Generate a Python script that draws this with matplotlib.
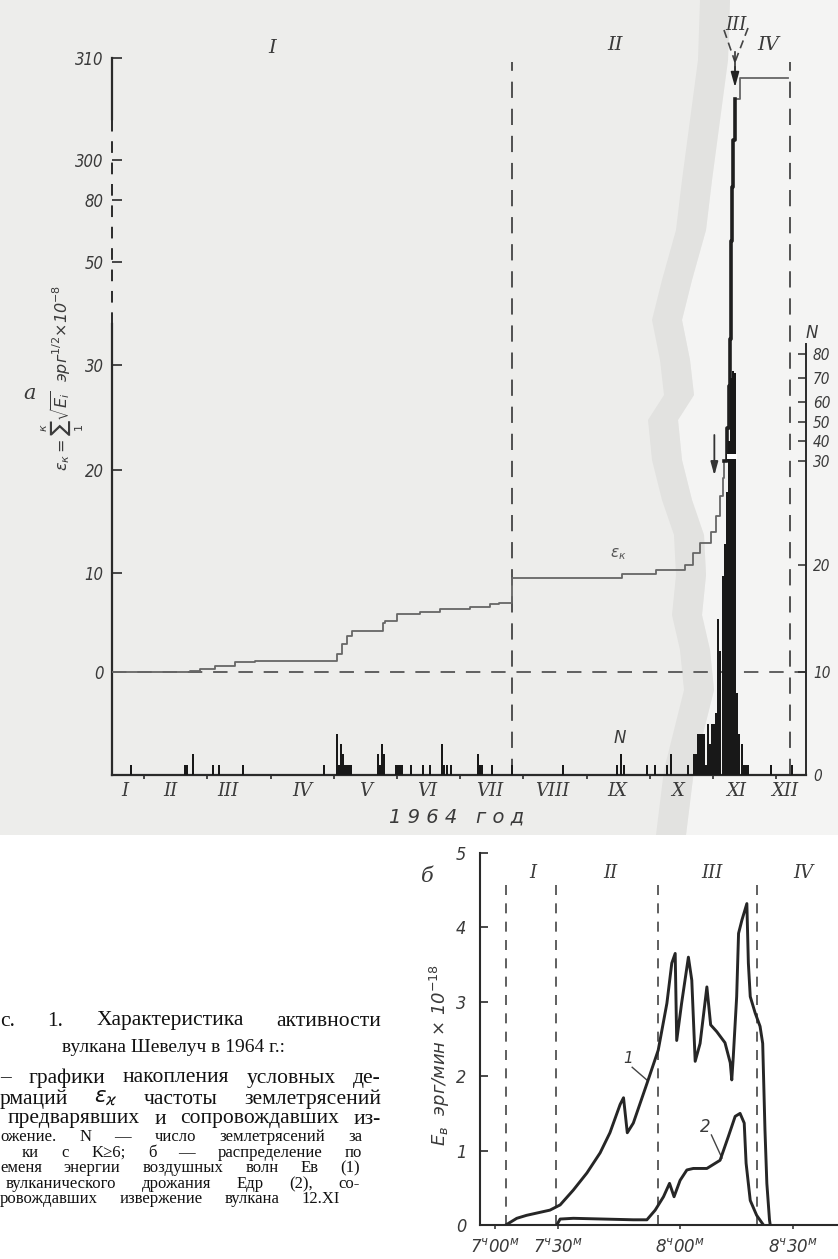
import numpy as np
import matplotlib
matplotlib.use("Agg")
import matplotlib.pyplot as plt
from matplotlib.patches import Rectangle, Polygon
from matplotlib.lines import Line2D

# ---------------- DATA ----------------
# panel a : month coordinate (0 = 1 Jan, 1 = 1 Feb ...)
DIM = [31, 29, 31, 30, 31, 30, 31, 31, 30, 31, 30, 31]

# cumulative conditional deformation eps_k (step levels, start of each level)
eps_x = [0.49, 1.73, 1.89, 2.12, 2.44, 2.76, 4.05, 4.13, 4.21, 4.29, 4.77, 4.81,
         5.00, 5.37, 5.68, 6.16, 6.47, 6.62, 6.82, 8.56, 9.09, 9.56, 9.69, 9.80,
         9.96, 10.05, 10.11, 10.15, 10.18, 10.22, 10.25, 10.27, 10.29, 10.30,
         10.32, 10.35, 10.43, 11.19]
eps_v = [0.0, 0.1, 0.3, 0.6, 1.0, 1.1, 1.8, 2.8, 3.6, 4.1, 5.0, 5.2,
         5.9, 6.1, 6.4, 6.6, 6.9, 7.0, 9.5, 9.9, 10.3, 10.8, 11.9, 12.9,
         14.0, 15.5, 17.5, 19.2, 20.9, 24.0, 28.0, 35.0, 60.0, 150.0,
         302.0, 306.0, 308.0, 308.0]

# number of earthquakes per day N (month, day, N)
bar_month = [1, 2, 2, 2, 3, 3, 3, 4,
             5, 5, 5, 5, 5, 5, 5, 5, 5, 5, 5, 5, 5, 6, 6, 6,
             6, 6, 6, 6, 6, 6, 6, 7, 7, 7, 7, 7, 8, 9, 9, 9, 9,
             10, 10, 10, 10, 10, 10, 10, 10, 10, 10, 10, 10, 10, 10,
             11, 11, 11, 11, 11, 11, 11, 11, 11, 11, 11, 11, 11, 11, 11, 11, 11, 11, 12]
bar_day = [25, 19, 20, 23, 3, 6, 18, 26,
           2, 3, 4, 5, 6, 7, 8, 9, 22, 23, 24, 25, 31, 1, 2, 3,
           7, 13, 16, 22, 23, 24, 26, 9, 10, 11, 16, 26, 20, 15, 17, 18, 29,
           3, 9, 11, 19, 22, 23, 24, 25, 26, 27, 28, 29, 30, 31,
           1, 2, 3, 4, 5, 6, 7, 8, 9, 10, 11, 12, 13, 14, 15, 16, 17, 28, 8]
bar_n = [1, 1, 1, 2, 1, 1, 1, 1,
         4, 1, 3, 2, 1, 1, 1, 1, 2, 1, 3, 2, 1, 1, 1, 1,
         1, 1, 1, 3, 1, 1, 1, 2, 1, 1, 1, 1, 1, 1, 2, 1, 1,
         1, 1, 2, 1, 2, 2, 4, 4, 4, 4, 1, 5, 3, 5,
         5, 6, 15, 12, 19, 22, 27, 40, 70, 73, 72, 8, 4, 3, 1, 1, 1, 1, 1]

month_labels = ["I", "II", "III", "IV", "V", "VI", "VII", "VIII", "IX", "X", "XI", "XII"]
month_label_pos = [0.70, 1.41, 2.33, 3.50, 4.50, 5.48, 6.47, 7.45, 8.48, 9.44, 10.37, 11.13]
phase_bounds_a = [6.82, 11.22]

eps_ticks = [0, 10, 20, 30, 50, 80, 300, 310]
n_ticks = [0, 10, 20, 30, 40, 50, 60, 70, 80]

# panel b : minutes after 7h00 (label positions)
t1 = [13.8, 16.7, 19.3, 25.5, 28.2, 31.7, 35.3, 38.8, 41.4, 44.1, 45.0, 46.0,
      47.6, 51.2, 54.2, 56.5, 57.8, 58.7, 59.1, 60.4, 62.2, 63.1, 64.0, 65.3,
      67.1, 68.1, 69.7, 71.9, 73.3, 73.7, 74.1, 75.0, 75.5, 76.4, 77.7, 78.1,
      78.6, 79.9, 81.2, 81.9, 82.5, 83.0, 83.7, 83.9]
v1 = [0.0, 0.09, 0.13, 0.20, 0.27, 0.47, 0.70, 0.97, 1.24, 1.62, 1.71, 1.24,
      1.37, 1.90, 2.35, 2.98, 3.52, 3.65, 2.48, 2.98, 3.60, 3.29, 2.20, 2.44,
      3.20, 2.69, 2.60, 2.45, 2.18, 1.95, 2.26, 3.07, 3.92, 4.10, 4.32, 3.52,
      3.07, 2.85, 2.67, 2.44, 1.28, 0.56, 0.07, 0.0]
t2 = [27.3, 28.2, 31.7, 47.6, 51.2, 53.4, 55.6, 57.2, 58.4, 60.0, 61.8, 63.5,
      67.1, 70.6, 72.8, 74.6, 75.9, 77.0, 77.5, 78.6, 80.3, 82.1]
v2 = [0.0, 0.08, 0.09, 0.07, 0.07, 0.20, 0.38, 0.56, 0.38, 0.60, 0.74, 0.76,
      0.76, 0.87, 1.19, 1.46, 1.50, 1.37, 0.83, 0.33, 0.13, 0.0]
phase_bounds_b = [13.8, 27.1, 54.2, 80.4]
phase_labels_b = ["I", "II", "III", "IV"]
phase_label_pos_b = [21.0, 41.4, 68.5, 92.6]
time_tick_pos = [10.9, 27.6, 60.0, 90.0]
time_tick_lab = ["7$^{ч}$00$^{м}$", "7$^{ч}$30$^{м}$", "8$^{ч}$00$^{м}$", "8$^{ч}$30$^{м}$"]

# ---------------- FIGURE ----------------
W, H = 838, 1259
fig = plt.figure(figsize=(W / 100, H / 100), dpi=100)
fig.patch.set_facecolor("white")


def fx(px):
    return px / W


def fy(py):
    return 1 - py / H


# paper background of the scanned upper part (soft fold shadow)
fig.add_artist(Rectangle((0, fy(835)), 1, 835 / H, transform=fig.transFigure,
                         color="#ededeb", zorder=-10, lw=0))
edge = [(700, 0), (698, 60), (690, 120), (682, 180), (676, 230), (662, 280), (652, 320),
        (660, 360), (664, 395), (648, 420), (652, 460), (662, 500), (674, 535), (676, 575),
        (672, 615), (680, 650), (684, 690), (674, 730), (664, 770), (656, 835)]
right = [(x + 30, y) for x, y in edge] + [(838, 835), (838, 0)]
band = [(x, y) for x, y in edge] + [(x + 30, y) for x, y in edge[::-1]]
fig.add_artist(Polygon([(fx(x), fy(y)) for x, y in right], closed=True,
                       transform=fig.transFigure, color="#f4f4f3", zorder=-9, lw=0))
fig.add_artist(Polygon([(fx(x), fy(y)) for x, y in band], closed=True,
                       transform=fig.transFigure, color="#e2e2e0", zorder=-9, lw=0))

INK = "#2a2a2a"
TXT = "#3a3a3a"


def interp_scale(kn, un):
    kn = np.asarray(kn, float)
    un = np.asarray(un, float)

    def fwd(v):
        return np.interp(v, kn, un)

    def inv(u):
        return np.interp(u, un, kn)
    return fwd, inv


# ---------------- PANEL a ----------------
ax = fig.add_axes([fx(112), fy(775), (806 - 112) / W, (775 - 58) / H])
ax.set_facecolor("none")
e_fwd, e_inv = interp_scale([-1000, -10.4, 0, 10, 20, 30, 50, 80, 300, 310, 2000],
                            [-9800, 0, 103, 202, 305, 410, 513, 575, 615, 717, 17950])
ax.set_yscale("function", functions=(e_fwd, e_inv))
ax.set_xlim(0.49, 11.47)
ax.set_ylim(-10.4, 310)

ax2 = ax.twinx()
ax2.set_facecolor("none")
n_fwd, n_inv = interp_scale([-1000, 0, 10, 20, 30, 40, 50, 60, 70, 80, 1000],
                            [-10300, 0, 103, 210, 314, 334, 353, 373, 397, 421, 2629])
ax2.set_yscale("function", functions=(n_fwd, n_inv))
ax2.set_ylim(0, float(n_inv(717)))

# bars
bx_pos = np.array([(m - 1) + (d - 0.5) / DIM[m - 1] for m, d in zip(bar_month, bar_day)])
bn = np.array(bar_n, float)
ax2.bar(bx_pos, bn, width=0.95 / 30.5, color="#181818", lw=0, zorder=3)
big = bn > 34
ax2.bar(bx_pos[big], 2.6, bottom=31.0, width=1.6 / 30.5, color="white", lw=0, zorder=4)

# eps curve
ex = np.array(eps_x)
ev = np.array(eps_v)
ax.plot(ex, ev, drawstyle="steps-post", color="#666666", lw=1.3, zorder=5)
i0 = int(np.searchsorted(ex, 10.22)) - 1
i1 = int(np.searchsorted(ex, 10.35)) + 1
ax.plot(ex[i0:i1], ev[i0:i1], drawstyle="steps-post", color="#1e1e1e", lw=2.6, zorder=6)

# reference lines
ax.axhline(0, color="#555555", lw=1.3, dashes=(8, 6), zorder=2)
for xb in phase_bounds_a:
    ax.axvline(xb, ymin=0, ymax=(775 - 62) / 717, color="#444444", lw=1.3,
               dashes=(9, 6), clip_on=False, zorder=2)

# spines
for s in ["top", "left", "right"]:
    ax.spines[s].set_visible(False)
ax.spines["bottom"].set_color(INK)
ax.spines["bottom"].set_linewidth(1.6)
for s in ["top", "left", "bottom"]:
    ax2.spines[s].set_visible(False)
ax2.spines["right"].set_color(INK)
ax2.spines["right"].set_linewidth(1.4)
ax2.spines["right"].set_bounds(0, 84)

ytr = ax.get_yaxis_transform()
ax.plot([0, 0], [-10.4, 38], transform=ytr, color=INK, lw=1.6, clip_on=False)
ax.plot([0, 0], [38, 304], transform=ytr, color=INK, lw=1.4, dashes=(6, 5), clip_on=False)
ax.plot([0, 0], [304, 310], transform=ytr, color=INK, lw=1.6, clip_on=False)

tick_font = dict(family="DejaVu Sans", style="italic", stretch="condensed")
ax.set_yticks(eps_ticks)
ax.set_yticklabels([str(v) for v in eps_ticks], fontsize=12, color=TXT, **tick_font)
ax.tick_params(axis="y", direction="in", length=7, width=1.2, color=INK, pad=6)
ax.yaxis.set_minor_locator(plt.NullLocator())
ax.set_xticks(range(1, 12))
ax.tick_params(axis="x", direction="out", length=3, width=1.2, color=INK, labelbottom=False)

ax2.set_yticks(n_ticks)
ax2.set_yticklabels([str(v) for v in n_ticks], fontsize=11, color=TXT, **tick_font)
ax2.tick_params(axis="y", direction="in", length=6, width=1.1, color=INK, pad=5)
ax2.yaxis.set_minor_locator(plt.NullLocator())

xtr = ax.get_xaxis_transform()
roman = dict(family="DejaVu Serif", style="italic", color=TXT)
for p, lab in zip(month_label_pos, month_labels):
    ax.text(p, -0.022, lab, transform=xtr, ha="center", va="center", fontsize=13, **roman)

fig.text(fx(457), fy(817), "1 9 6 4   г о д", ha="center", va="center", fontsize=14,
         family="DejaVu Sans", style="italic", color=TXT)

# phase labels of panel a
fig.text(fx(272), fy(48), "I", ha="center", va="center", fontsize=14, **roman)
fig.text(fx(615), fy(45), "II", ha="center", va="center", fontsize=14, **roman)
fig.text(fx(736), fy(25), "III", ha="center", va="center", fontsize=13, **roman)
fig.text(fx(768), fy(45), "IV", ha="center", va="center", fontsize=14, **roman)
for (x0, y0) in [(724, 30), (748, 28)]:
    fig.add_artist(Line2D([fx(x0), fx(735)], [fy(y0), fy(62)], transform=fig.transFigure,
                          color="#444444", lw=1.2, dashes=(5, 3)))
fig.add_artist(Line2D([fx(735), fx(735)], [fy(52), fy(70)], transform=fig.transFigure,
                      color="#333333", lw=1.2))
ax.annotate("", xy=(fx(735), fy(90)), xytext=(fx(735), fy(64)),
            xycoords="figure fraction", textcoords="figure fraction",
            arrowprops=dict(arrowstyle="-|>,head_length=0.9,head_width=0.25",
                            color="#222222", lw=1.2))

# arrow near eps ~ 20
ax.annotate("", xy=(10.02, 19.2), xytext=(10.02, 23.6),
            arrowprops=dict(arrowstyle="-|>,head_length=0.8,head_width=0.22",
                            color="#333333", lw=1.3))

ax.text(8.50, 11.8, r"$\varepsilon_{к}$", fontsize=11, color="#555555", ha="center", va="center")
fig.text(fx(620), fy(738), "N", fontsize=12, family="DejaVu Sans", style="italic",
         color=TXT, ha="center", va="center")
fig.text(fx(812), fy(333), "N", fontsize=12, family="DejaVu Sans", style="italic",
         color=TXT, ha="center", va="center")
fig.text(fx(30), fy(393), "a", fontsize=15, family="DejaVu Serif", style="italic",
         color=TXT, ha="center", va="center")
fig.text(fx(63), fy(378),
         r"$\varepsilon_{к}=\sum_{1}^{к}\sqrt{E_i}$  эрг$^{1/2}$$\times$10$^{-8}$",
         rotation=90, fontsize=11.5, color=TXT, ha="center", va="center",
         family="DejaVu Sans", style="italic")

# ---------------- PANEL b ----------------
bx = fig.add_axes([fx(480), fy(1225), (837 - 480) / W, (1225 - 853) / H])
bx.set_facecolor("none")
bx.set_xlim(6.95, 101.6)
bx.set_ylim(0, 5)
for s in ["top", "right"]:
    bx.spines[s].set_visible(False)
for s in ["left", "bottom"]:
    bx.spines[s].set_color(INK)
    bx.spines[s].set_linewidth(1.5)
bx.plot(t1, v1, color="#262626", lw=2.1, solid_joinstyle="round", zorder=4)
bx.plot(t2, v2, color="#262626", lw=2.1, solid_joinstyle="round", zorder=4)
bx.vlines(phase_bounds_b, 0, 4.68, colors="#444444", lw=1.2, linestyles=(0, (6, 5)), zorder=2)
for p, lab in zip(phase_label_pos_b, phase_labels_b):
    bx.text(p, 4.73, lab, ha="center", va="center", fontsize=13, **roman)
bx.set_yticks(range(0, 6))
bx.set_yticklabels([str(v) for v in range(0, 6)], fontsize=13, color=TXT, **tick_font)
bx.tick_params(axis="y", direction="in", length=6, width=1.2, color=INK, pad=10)
bx.set_xticks(time_tick_pos)
bx.set_xticklabels(time_tick_lab, fontsize=12, color=TXT, family="DejaVu Sans", style="italic")
bx.tick_params(axis="x", direction="out", length=3, width=1.1, color=INK, pad=6)

bx.text(46.2, 2.24, "1", fontsize=11, color=TXT, ha="center", va="center",
        family="DejaVu Sans", style="italic")
bx.plot([47.3, 51.4], [2.12, 1.94], color="#444444", lw=1.0)
bx.text(66.6, 1.32, "2", fontsize=12, color=TXT, ha="center", va="center",
        family="DejaVu Sans", style="italic")
bx.plot([68.3, 71.1], [1.21, 0.90], color="#444444", lw=1.0)

fig.text(fx(427), fy(877), "б", fontsize=15, family="DejaVu Serif", style="italic",
         color=TXT, ha="center", va="center")
fig.text(fx(440), fy(1055), r"$E_{\mathregular{в}}$  эрг/мин × 10$^{-18}$", rotation=90,
         fontsize=13, color=TXT, ha="center", va="center", family="DejaVu Sans",
         style="italic")

# ---------------- CAPTION ----------------
renderer = fig.canvas.get_renderer()
CAP = dict(family="Liberation Serif", color="#111111", va="center", ha="left")


def justify(words, x0, x1, y, size):
    texts = [fig.text(0, fy(y), w, fontsize=size, **CAP) for w in words]
    widths = [t.get_window_extent(renderer).width for t in texts]
    gap = (x1 - x0 - sum(widths)) / max(len(words) - 1, 1)
    gap = max(gap, 0.28 * size)
    x = x0
    for t, w in zip(texts, widths):
        t.set_x(fx(x))
        x += w + gap


justify(["с.", "1.", "Характеристика", "активности"], 0, 381, 1021, 15.5)
fig.text(fx(62), fy(1047), "вулкана Шевелуч в 1964 г.:", fontsize=14, **CAP)
justify(["–", "графики", "накопления", "условных", "де-"], 0, 381, 1078, 15.5)
justify(["рмаций", r"$\varepsilon_\varkappa$", "частоты", "землетрясений"], 0, 381, 1099, 15.5)
justify(["предварявших", "и", "сопровождавших", "из-"], 8, 381, 1119, 15.5)
justify(["ожение.", "N", "—", "число", "землетрясений", "за"], 0, 362, 1137, 12)
justify(["ки", "с", "K≥6;", "б", "—", "распределение", "по"], 22, 362, 1153, 12)
justify(["еменя", "энергии", "воздушных", "волн", "Ев", "(1)"], 0, 360, 1168, 12)
justify(["вулканического", "дрожания", "Едр", "(2),", "со-"], 6, 360, 1184, 12)
justify(["ровождавших", "извержение", "вулкана", "12.XI"], 0, 340, 1199, 12)

fig.savefig("out.png", dpi=100, facecolor=fig.get_facecolor())
